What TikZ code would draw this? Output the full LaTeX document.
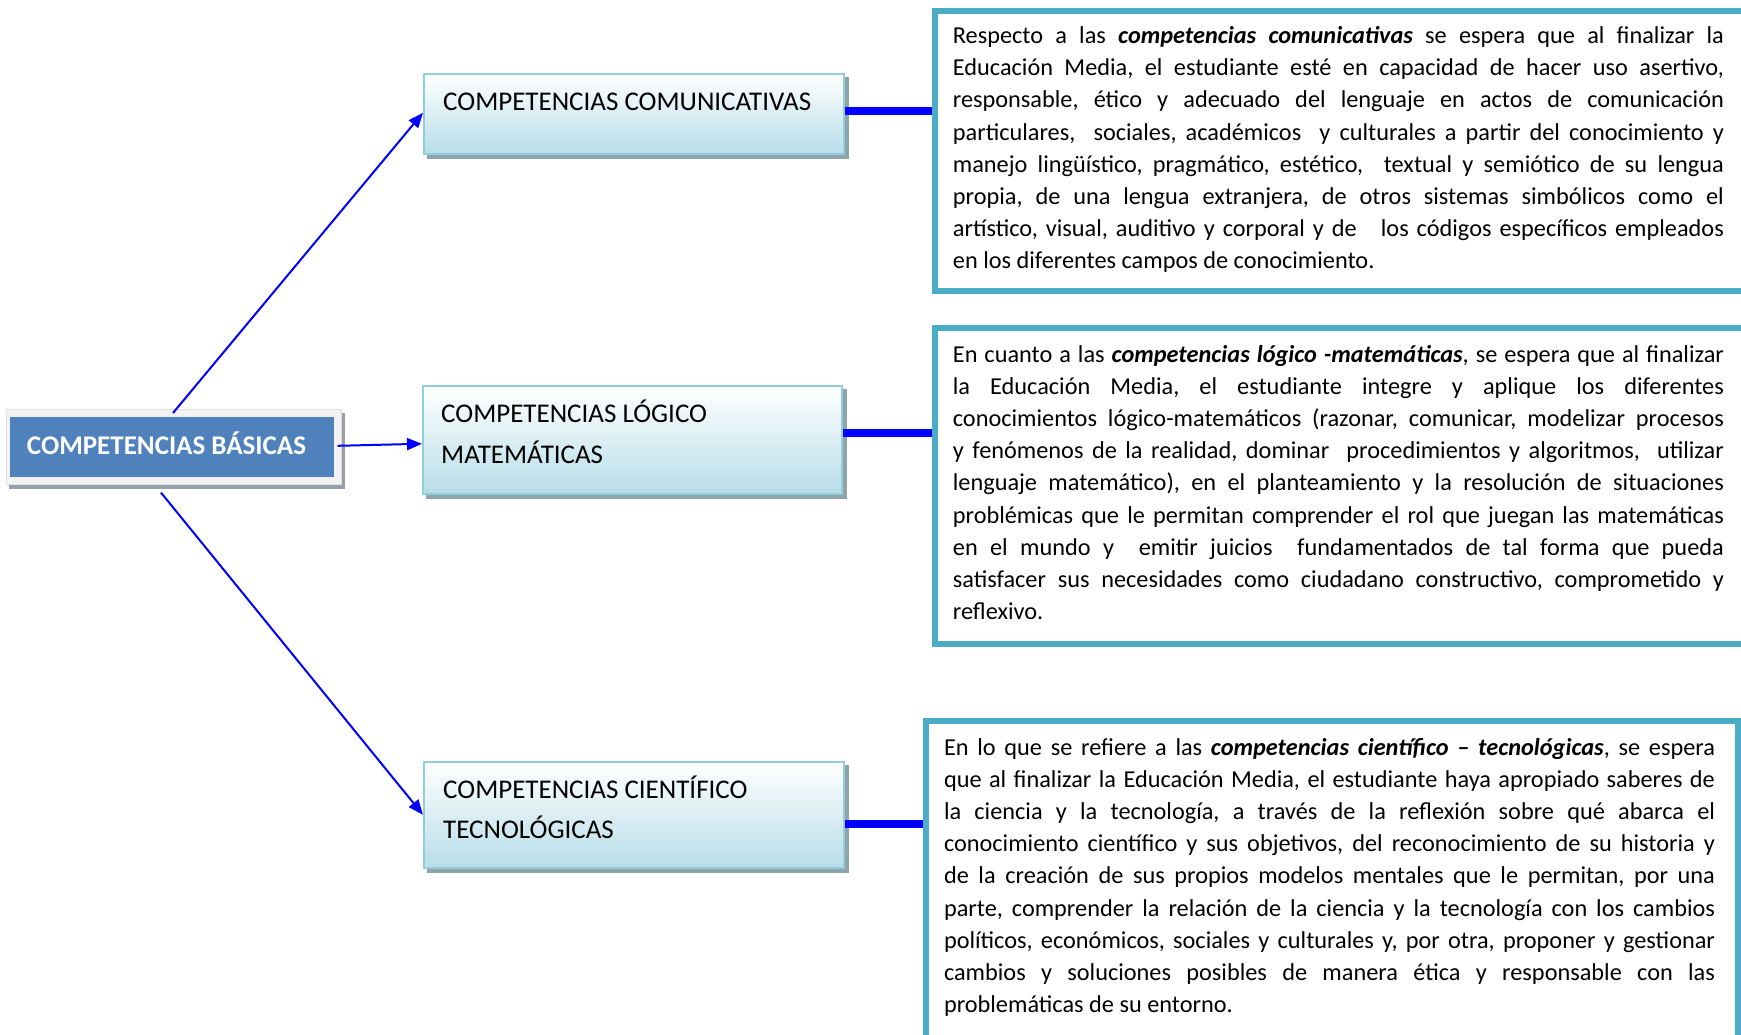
\documentclass[tikz,border=0pt]{standalone}
\usepackage{fontspec}
\setmainfont{Carlito}
\usetikzlibrary{arrows.meta,calc}
\pgfdeclarelayer{background}
\pgfsetlayers{background,main}
\definecolor{lblue}{RGB}{183,221,232}
\definecolor{lborder}{RGB}{146,205,220}
\definecolor{shad}{RGB}{143,163,170}
\definecolor{tealb}{RGB}{75,172,198}
\definecolor{basblue}{RGB}{79,129,189}
\definecolor{framec}{RGB}{242,242,242}
\definecolor{frshad}{RGB}{150,160,172}
\newlength\bw
\setlength\bw{771pt}
\newcommand\jl[1]{\makebox[\bw][s]{\spaceskip=0pt\relax\xspaceskip=0pt\relax #1}}
\newcommand\lastl[1]{\mbox{\spaceskip=0pt\relax\xspaceskip=0pt\relax #1}}
\newcommand\bi[1]{\textbf{\textit{#1}}}
\begin{document}
\begin{tikzpicture}[x=1pt,y=-1pt,
  compbox/.style={rectangle, draw=lborder, line width=1.5pt, top color=white, bottom color=lblue, anchor=north west, inner sep=0pt},
  labeltext/.style={anchor=base west, inner sep=0pt, font=\fontsize{27}{41}\selectfont},
  textbox/.style={rectangle, draw=tealb, line width=6pt, fill=white, anchor=north west, inner sep=0pt},
  bodytext/.style={anchor=base west, inner sep=0pt, text width=\bw, align=left, font=\fontsize{24.3}{32.2}\selectfont\frenchspacing},
  arr/.style={draw=blue, line width=2pt, -{Triangle[length=15pt,width=12pt]}},
  barline/.style={draw=blue, line width=7.5pt}]
\useasboundingbox (0,0) rectangle (1741,1034);
\clip (0,0) rectangle (1741,1034);

% central node
\node[rectangle, fill=framec, draw=black!12, line width=0.6pt, anchor=north west, inner sep=0pt,
      minimum width=335pt, minimum height=75pt] (bas) at (6,409) {};
\node[rectangle, fill=basblue, anchor=north west, inner sep=0pt,
      minimum width=324.5pt, minimum height=60pt] (basin) at (9.5,417) {};
\node[anchor=base, inner sep=0pt, text=white, font=\fontsize{27}{33}\selectfont\bfseries] (bast) at (166.5,454.5) {COMPETENCIAS BÁSICAS};

% competence boxes
\node[compbox, minimum width=420pt, minimum height=80pt] (com) at (423,73) {};
\node[compbox, minimum width=419pt, minimum height=108pt] (log) at (422,385) {};
\node[compbox, minimum width=420pt, minimum height=106pt] (cie) at (423,761) {};

\node[labeltext] (comt) at (443,110.5) {COMPETENCIAS COMUNICATIVAS};
\node[labeltext] (logt1) at (441,422.5) {COMPETENCIAS LÓGICO};
\node[labeltext] (logt2) at (441,463.5) {MATEMÁTICAS};
\node[labeltext] (ciet1) at (443,798) {COMPETENCIAS CIENTÍFICO};
\node[labeltext] (ciet2) at (443,838) {TECNOLÓGICAS};

% white page and shadows
\begin{pgfonlayer}{background}
\fill[white] (0,0) rectangle (1741,1034);
\fill[frshad] ([shift={(3pt,-4pt)}]bas.north west) rectangle ([shift={(3pt,-4pt)}]bas.south east);
\fill[shad] ([shift={(4pt,-4pt)}]com.north west) rectangle ([shift={(4pt,-4pt)}]com.south east);
\fill[shad] ([shift={(4pt,-4pt)}]log.north west) rectangle ([shift={(4pt,-4pt)}]log.south east);
\fill[shad] ([shift={(4pt,-4pt)}]cie.north west) rectangle ([shift={(4pt,-4pt)}]cie.south east);
\end{pgfonlayer}

% text boxes
\node[textbox, minimum width=830pt, minimum height=280.5pt] (tb1) at (932,7.5) {};
\node[textbox, minimum width=830pt, minimum height=316pt] (tb2) at (931.5,325) {};
\node[textbox, minimum width=812.5pt, minimum height=340pt] (tb3) at (922.5,718) {};

\node[bodytext] (b1) at (952.7,43.5) {%
\jl{Respecto a las \bi{competencias comunicativas} se espera que al finalizar la}\\
\jl{Educación Media, el estudiante esté en capacidad de hacer uso asertivo,}\\
\jl{responsable, ético y adecuado del lenguaje en actos de comunicación}\\
\jl{particulares,\ \ sociales, académicos\ \ y culturales a partir del conocimiento y}\\
\jl{manejo lingüístico, pragmático, estético,\ \ textual y semiótico de su lengua}\\
\jl{propia, de una lengua extranjera, de otros sistemas simbólicos como el}\\
\jl{artístico, visual, auditivo y corporal y de\ \ \ los códigos específicos empleados}\\
\lastl{en los diferentes campos de conocimiento.}};

\node[bodytext] (b2) at (952.7,362) {%
\jl{En cuanto a las \bi{competencias lógico -matemáticas}, se espera que al finalizar}\\
\jl{la Educación Media, el estudiante integre y aplique los diferentes}\\
\jl{conocimientos lógico-matemáticos (razonar, comunicar, modelizar procesos}\\
\jl{y fenómenos de la realidad, dominar\ \ procedimientos y algoritmos,\ \ utilizar}\\
\jl{lenguaje matemático), en el planteamiento y la resolución de situaciones}\\
\jl{problémicas que le permitan comprender el rol que juegan las matemáticas}\\
\jl{en el mundo y\ \ emitir juicios\ \ fundamentados de tal forma que pueda}\\
\jl{satisfacer sus necesidades como ciudadano constructivo, comprometido y}\\
\lastl{reflexivo.}};

\node[bodytext] (b3) at (943.8,755) {%
\jl{En lo que se refiere a las \bi{competencias científico – tecnológicas}, se espera}\\
\jl{que al finalizar la Educación Media, el estudiante haya apropiado saberes de}\\
\jl{la ciencia y la tecnología, a través de la reflexión sobre qué abarca el}\\
\jl{conocimiento científico y sus objetivos, del reconocimiento de su historia y}\\
\jl{de la creación de sus propios modelos mentales que le permitan, por una}\\
\jl{parte, comprender la relación de la ciencia y la tecnología con los cambios}\\
\jl{políticos, económicos, sociales y culturales y, por otra, proponer y gestionar}\\
\jl{cambios y soluciones posibles de manera ética y responsable con las}\\
\lastl{problemáticas de su entorno.}};

% arrows
\draw[arr] ([shift={(167pt,-4pt)}]bas.north west) -- ([yshift=1pt]com.west);
\draw[arr] ([xshift=-4pt,yshift=1pt]bas.east) -- ([yshift=-4pt]log.west);
\draw[arr] ([shift={(155pt,-8pt)}]bas.south west) -- (cie.west);

% bars
\draw[barline] ([yshift=3pt]com.east) -- ([yshift=3pt]com.east -| tb1.west);
\draw[barline] ([yshift=7pt]log.east) -- ([yshift=7pt]log.east -| tb2.west);
\draw[barline] ([yshift=-9pt]cie.east) -- ([yshift=-9pt]cie.east -| tb3.west);
\end{tikzpicture}
\end{document}
